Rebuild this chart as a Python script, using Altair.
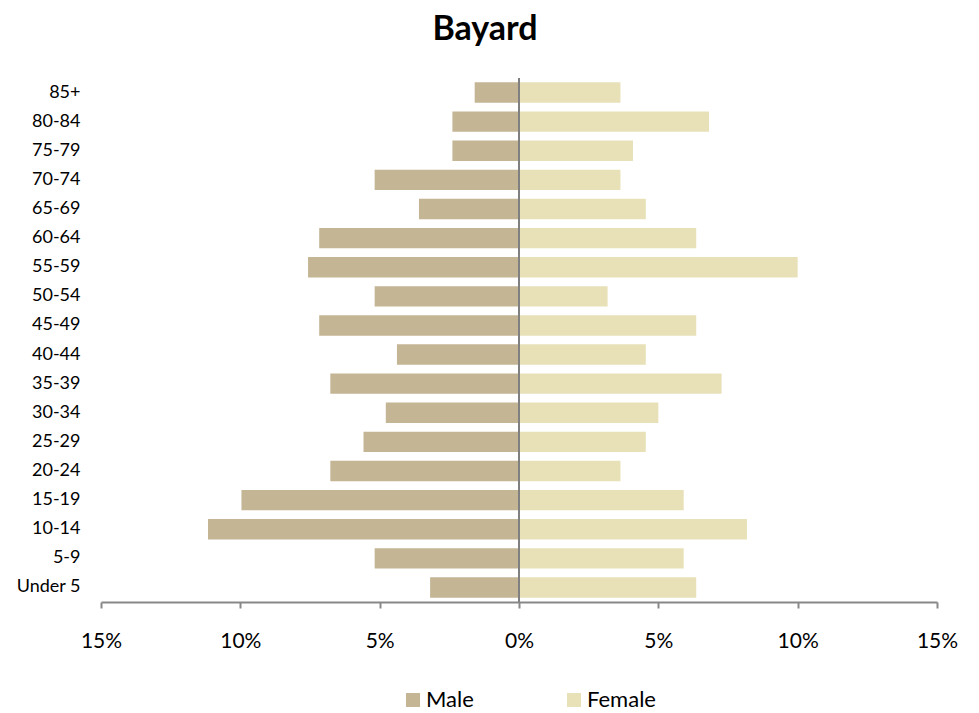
import altair as alt
import pandas as pd

ages = ["85+", "80-84", "75-79", "70-74", "65-69", "60-64", "55-59", "50-54", "45-49",
        "40-44", "35-39", "30-34", "25-29", "20-24", "15-19", "10-14", "5-9", "Under 5"]
male = [1.59, 2.39, 2.39, 5.18, 3.59, 7.17, 7.57, 5.18, 7.17,
        4.38, 6.77, 4.78, 5.58, 6.77, 9.96, 11.16, 5.18, 3.19]
female = [3.64, 6.82, 4.09, 3.64, 4.55, 6.36, 10.0, 3.18, 6.36,
          4.55, 7.27, 5.0, 4.55, 3.64, 5.91, 8.18, 5.91, 6.36]
sexes = ["Male", "Female"]
colors = ["#C4B594", "#E8E1B8"]
ticks = [-15, -10, -5, 0, 5, 10, 15]

rows = []
for a, m, f in zip(ages, male, female):
    rows.append({"age": a, "sex": "Male", "value": -m})
    rows.append({"age": a, "sex": "Female", "value": f})
df = pd.DataFrame(rows)

FONT = "Lato"

bars = alt.Chart(df).mark_bar().encode(
    y=alt.Y("age:N", sort=ages,
            scale=alt.Scale(paddingInner=0.3, paddingOuter=0.15),
            axis=alt.Axis(title=None, domain=False, ticks=False, labelFontSize=18,
                          labelPadding=21, labelColor="black")),
    x=alt.X("value:Q", stack=None,
            scale=alt.Scale(domain=[-15, 15], nice=False),
            axis=alt.Axis(title=None, values=ticks,
                          labelExpr="abs(datum.value) + '%'", grid=False,
                          domainColor="#888888", domainWidth=2, tickColor="#888888",
                          tickWidth=2, tickSize=6, labelPadding=22, labelFontSize=21,
                          labelFlush=False, labelOverlap=False, labelColor="black")),
    color=alt.Color("sex:N", scale=alt.Scale(domain=sexes, range=colors),
                    legend=alt.Legend(title=None, orient="none", legendX=301, legendY=611,
                                      direction="horizontal", symbolType="square",
                                      symbolSize=196, labelFontSize=22, labelOffset=2,
                                      columnPadding=89, symbolStrokeWidth=0,
                                      labelColor="black", padding=0)),
)

zero = alt.Chart(pd.DataFrame({"x": [0]})).mark_rule(color="#808080", strokeWidth=2).encode(
    x=alt.X("x:Q")
)

chart = alt.layer(bars, zero).properties(
    width=836, height=524,
    title=alt.Title("Bayard", fontSize=34, font=FONT, fontWeight="bold",
                    anchor="middle", offset=30, dx=-34, color="black"),
    autosize=alt.AutoSizeParams(type="none"),
    padding={"left": 93, "top": 70, "right": 30, "bottom": 110},
).configure_view(stroke=None).configure_axis(labelFont=FONT).configure_legend(labelFont=FONT)

chart.save("out.html", embed_options={"renderer": "svg", "actions": False})
